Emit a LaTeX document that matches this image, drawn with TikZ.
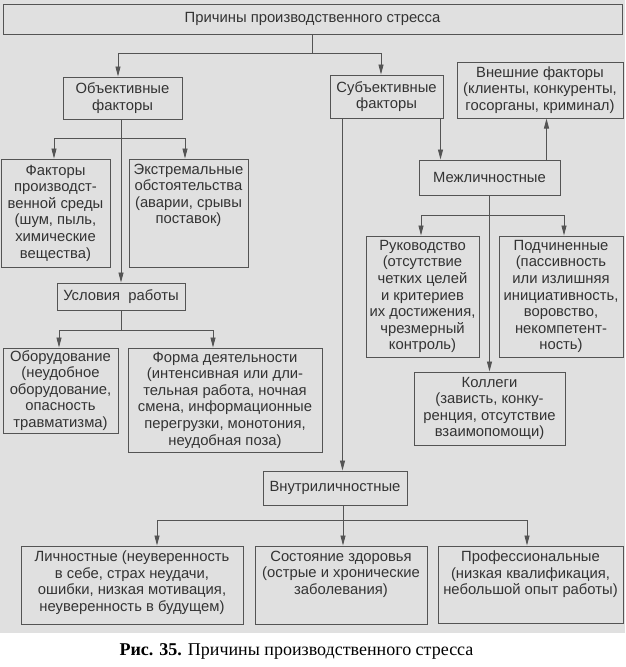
\documentclass[tikz,border=0pt]{standalone}
\usepackage{fontspec}
\setmainfont{Liberation Sans}
\newfontfamily\capfont{Liberation Serif}
\usetikzlibrary{arrows.meta}
\definecolor{bgc}{gray}{0.88}
\definecolor{lnc}{gray}{0.33}
\definecolor{txc}{gray}{0.2}
\begin{document}
\begin{tikzpicture}[x=1pt,y=-1pt,
  box/.style={draw=lnc, line width=1pt, text=txc, align=center, inner sep=0pt,
    font=\fontsize{14.8}{16.6}\selectfont},
  txt/.style={text=txc, align=center, inner sep=0pt, font=\fontsize{14.8}{16.6}\selectfont},
  conn/.style={draw=lnc, line width=0.9pt},
  arr/.style={conn, -{Triangle[width=5pt,length=10pt]}}]
\fill[bgc] (0,0) rectangle (625,633);
\useasboundingbox (0,0) rectangle (625,667);

% boxes
\node[box, minimum width=619pt, minimum height=30pt] (top) at (312.5,19) {Причины производственного стресса};
\node[box, minimum width=119pt, minimum height=42pt] (obj) at (122.5,98) {Объективные\\факторы};
\node[box, minimum width=113pt, minimum height=43pt] (subj) at (386.5,96.5) {Субъективные\\факторы};
\node[box, minimum width=166pt, minimum height=56pt] (vnesh) at (540,90) {Внешние факторы\\(клиенты, конкуренты,\\госорганы, криминал)};
\node[box, minimum width=109pt, minimum height=108pt] (fact) at (55.5,213) {Факторы\\производст-\\венной среды\\(шум, пыль,\\химические\\вещества)};
\node[box, minimum width=119pt, minimum height=108pt] (ekstr) at (188.5,213) {};
\node[txt, anchor=north] (ekstrt) at ([yshift=-5pt]ekstr.north) {Экстремальные\\обстоятельства\\(аварии, срывы\\поставок)};
\node[box, minimum width=128pt, minimum height=27pt] (uslov) at (121,296.5) {Условия\ \ работы};
\node[box, minimum width=115pt, minimum height=85pt] (obor) at (60.5,390.5) {Оборудование\\(неудобное\\оборудование,\\опасность\\травматизма)};
\node[box, minimum width=194pt, minimum height=104pt] (forma) at (225,400) {Форма деятельности\\(интенсивная или дли-\\тельная работа, ночная\\смена, информационные\\перегрузки, монотония,\\неудобная поза)};
\node[box, minimum width=141pt, minimum height=35pt] (mezh) at (489.5,177.5) {Межличностные};
\node[box, minimum width=113pt, minimum height=121pt] (ruk) at (422.5,296.5) {Руководство\\(отсутствие\\четких целей\\и критериев\\их достижения,\\чрезмерный\\контроль)};
\node[box, minimum width=124pt, minimum height=121pt] (podch) at (561,296.5) {Подчиненные\\(пассивность\\или излишняя\\инициативность,\\воровство,\\некомпетент-\\ность)};
\node[box, minimum width=151pt, minimum height=73pt] (koll) at (489.5,408.5) {Коллеги\\(зависть, конку-\\ренция, отсутствие\\взаимопомощи)};
\node[box, minimum width=144pt, minimum height=34pt] (vnutr) at (335,488) {Внутриличностные};
\node[box, minimum width=222pt, minimum height=78pt] (lichn) at (132,585) {};
\node[txt, anchor=north] (lichnt) at ([yshift=-5pt]lichn.north) {Личностные (неуверенность\\в себе, страх неудачи,\\ошибки, низкая мотивация,\\неуверенность в будущем)};
\node[box, minimum width=172pt, minimum height=78pt] (sost) at (341,585) {};
\node[txt, anchor=north] (sostt) at ([yshift=-5pt]sost.north) {Состояние здоровья\\(острые и хронические\\заболевания)};
\node[box, minimum width=185pt, minimum height=77pt] (prof) at (530.5,584.5) {};
\node[txt, anchor=north] (proft) at ([yshift=-5pt]prof.north) {Профессиональные\\(низкая квалификация,\\небольшой опыт работы)};

% connectors
\coordinate (j1) at (312,53);
\draw[conn] (top.south -| j1) -- (j1);
\draw[arr] (j1) -| ([xshift=-4.5pt]obj.north);
\draw[arr] (j1) -| ([xshift=-5.5pt]subj.north);

\draw[arr] (obj.south -| uslov.north) -- (uslov.north);
\coordinate (j2) at (121,138);
\draw[arr] (j2) -| ([xshift=-1.5pt]fact.north);
\draw[arr] (j2) -| ([xshift=-3.5pt]ekstr.north);

\coordinate (j3) at (121,330);
\draw[conn] (uslov.south) -- (j3);
\draw[arr] (j3) -| ([xshift=-1.5pt]obor.north);
\draw[arr] (j3) -| ([xshift=-12pt]forma.north);

\draw[arr] ([xshift=13pt]subj.south west) coordinate (s1) -- (vnutr.north -| s1);
\draw[arr] ([xshift=-3pt]subj.south east) coordinate (s2) -- (mezh.north -| s2);
\draw[arr] ([xshift=-14pt]mezh.north east) coordinate (s3) -- (vnesh.south -| s3);

\draw[arr] (mezh.south) -- (koll.north);
\coordinate (j4) at (489.5,215);
\draw[arr] (j4) -| ([xshift=-1.5pt]ruk.north);
\draw[arr] (j4) -| ([xshift=3pt]podch.north);

\coordinate (j5) at (343,520);
\draw[conn] (vnutr.south -| j5) -- (j5);
\draw[arr] (j5) -| ([xshift=25pt]lichn.north);
\draw[arr] (j5) -- (sost.north -| j5);
\draw[arr] (j5) -| ([xshift=-3.5pt]prof.north);

% caption
\node[inner sep=0pt] (cap) at (296.5,651) {\capfont\fontsize{18}{20}\selectfont\textbf{Рис. 35.} Причины производственного стресса};
\end{tikzpicture}
\end{document}
